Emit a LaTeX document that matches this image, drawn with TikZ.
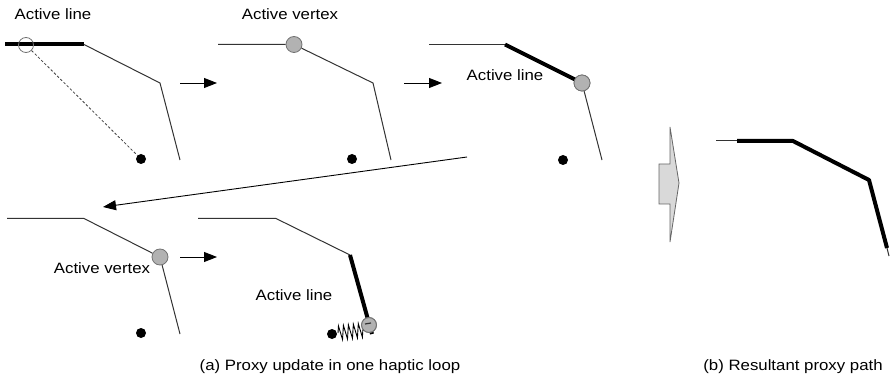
\documentclass[tikz,border=0pt]{standalone}
\usepackage{fontspec}
\setmainfont{Liberation Sans}
\usetikzlibrary{arrows.meta,decorations.pathmorphing}
\newcommand{\lbl}[1]{\scalebox{1.12}[1]{#1}}
\tikzset{
  thinln/.style={draw=black!80, line width=1pt},
  thickln/.style={draw=black, line width=4pt},
  vtx/.style={circle, draw=black!55, fill=black!30, line width=0.8pt, minimum size=16pt, inner sep=0pt},
  openvtx/.style={circle, draw=black!55, line width=0.8pt, minimum size=15pt, inner sep=0pt},
  dotpt/.style={circle, fill=black, minimum size=10pt, inner sep=0pt},
  stepar/.style={draw=black, line width=0.9pt, -{Triangle[length=13pt,width=10pt]}},
  txt/.style={font=\fontsize{15}{18}\selectfont, inner sep=0pt, anchor=base},
}
\begin{document}
\begin{tikzpicture}[x=1pt,y=-1pt]
\useasboundingbox (0,0) rectangle (893,379);
% ---------- panel 1
\coordinate (a1) at (5,44.5); \coordinate (a2) at (84,44.5);
\coordinate (a3) at (160,83); \coordinate (a4) at (180,160);
\draw[thickln] (a1) -- (a2);
\draw[thinln] (a2) -- (a3) -- (a4);
\node[openvtx] (c1) at (26,45) {};
\node[dotpt] (d1) at (141,159) {};
\draw[black!75, line width=0.8pt, dashed, dash pattern=on 2.5pt off 2pt] (c1) -- (d1);
\node[txt] (t1) at (53,20) {\lbl{Active line}};
% ---------- panel 2
\coordinate (b1) at (218,44.5);
\node[vtx] (c2) at (294,44.5) {};
\coordinate (b3) at (373,83); \coordinate (b4) at (391,160);
\draw[thinln] (b1) -- (c2) -- (b3) -- (b4);
\node[dotpt] (d2) at (352,159) {};
\node[txt] (t2) at (290,20) {\lbl{Active vertex}};
% ---------- panel 3
\coordinate (e1) at (429,44.5); \coordinate (e2) at (505,44.5);
\node[vtx] (c3) at (582,83) {};
\coordinate (e4) at (602,160);
\draw[thinln] (e1) -- (e2);
\draw[thickln] (e2) -- (c3.center);
\node[vtx] at (c3) {};
\draw[thinln] (c3) -- (e4);
\node[dotpt] (d3) at (563,160) {};
\node[txt] (t3) at (505,81) {\lbl{Active line}};
% ---------- arrows top
\coordinate (s1) at (180,83); \coordinate (s2) at (217,83);
\draw[stepar] (s1) -- (s2);
\coordinate (s3) at (404,83); \coordinate (s4) at (442,83);
\draw[stepar] (s3) -- (s4);
\coordinate (s5) at (467,157); \coordinate (s6) at (103,207);
\draw[stepar] (s5) -- (s6);
% ---------- panel 4
\coordinate (f1) at (7,218.5); \coordinate (f2) at (84,218.5);
\node[vtx] (c4) at (160,257) {};
\coordinate (f4) at (180,334);
\draw[thinln] (f1) -- (f2) -- (c4) -- (f4);
\node[dotpt] (d4) at (141,333) {};
\node[txt] (t4) at (102,273) {\lbl{Active vertex}};
\coordinate (s7) at (180,257); \coordinate (s8) at (217,257);
\draw[stepar] (s7) -- (s8);
% ---------- panel 5
\coordinate (g1) at (198,218.5); \coordinate (g2) at (276,218.5);
\coordinate (g3) at (350,255); \coordinate (g4) at (372,334);
\draw[thinln] (g1) -- (g2) -- (g3);
\draw[thickln] (g3) -- (g4);
\node[dotpt] (d5) at (332,334) {};
\node[vtx, minimum size=15pt] (c5) at (369,325) {};
\draw[black, line width=0.9pt, decorate, decoration={zigzag, segment length=5pt, amplitude=7pt}] (d5) ++(6,-1) -- ++(26,-3);
\draw[black!80, line width=1.2pt] (365,324) -- (371,323);
\node[vtx, minimum size=15pt, fill=none] at (c5) {};
\node[txt] (t5) at (294,300) {\lbl{Active line}};
% ---------- big arrow
\draw[fill=black!15, draw=black!60, line width=0.8pt]
  (659,164) -- (670,164) -- (670,127) -- (679,183) -- (670,242) -- (670,204) -- (659,204) -- cycle;
% ---------- panel b
\coordinate (h0) at (716,141); \coordinate (h1) at (737,141);
\coordinate (h2) at (793,141); \coordinate (h3) at (869,180);
\coordinate (h4) at (887,248); \coordinate (h5) at (889,256);
\draw[thinln] (h0) -- (h1);
\draw[thickln, line join=round] (h1) -- (h2) -- (h3) -- (h4);
\draw[thinln] (h4) -- (h5);
% ---------- captions
\node[txt] (capa) at (330,370) {\lbl{(a) Proxy update in one haptic loop}};
\node[txt] (capb) at (793,370) {\lbl{(b) Resultant proxy path}};
\end{tikzpicture}
\end{document}
